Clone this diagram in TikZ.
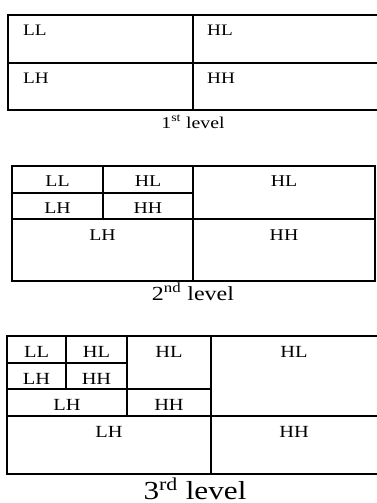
\documentclass[tikz,border=0pt]{standalone}
\usepackage{fontspec}
\setmainfont{Liberation Serif}
\usepackage{graphicx}
\newcommand\fsz[2]{\scalebox{1.2}[1]{\fontsize{#1}{#1}\selectfont #2}}
\tikzset{
  grid/.style={line width=1.6pt, line join=miter},
  lbl/.style={inner sep=0pt, anchor=base},
  lblw/.style={inner sep=0pt, anchor=base west},
}
\begin{document}
\begin{tikzpicture}[x=1pt,y=-1pt]
\useasboundingbox (0,0) rectangle (377,503);
\clip (0,0) rectangle (377,503);
% ---------- 1st level ----------
\draw[grid] (380,15) -- (8,15) -- (8,110) -- (380,110);
\draw[grid] (8,63) -- (380,63);
\draw[grid] (193,15) -- (193,110);
\node[lblw] (a1) at (23,35.7) {\fsz{16}{LL}};
\node[lblw] (a2) at (207,35.7) {\fsz{16}{HL}};
\node[lblw] (a3) at (23,83.3) {\fsz{16}{LH}};
\node[lblw] (a4) at (207,83.3) {\fsz{16}{HH}};
\node[lbl] (c1) at (193,128) {\fsz{16.5}{1\textsuperscript{st} level}};
% ---------- 2nd level ----------
\draw[grid] (12,166) rectangle (375,281);
\draw[grid] (12,193) -- (193,193);
\draw[grid] (12,219) -- (375,219);
\draw[grid] (103,166) -- (103,219);
\draw[grid] (193,166) -- (193,281);
\node[lbl] (b1) at (57.5,186.7) {\fsz{16.5}{LL}};
\node[lbl] (b2) at (148,186.7) {\fsz{16.5}{HL}};
\node[lbl] (b3) at (284,186.7) {\fsz{16.5}{HL}};
\node[lbl] (b4) at (57.5,213.3) {\fsz{16.5}{LH}};
\node[lbl] (b5) at (148,213.3) {\fsz{16.5}{HH}};
\node[lbl] (b6) at (102.5,240) {\fsz{16.5}{LH}};
\node[lbl] (b7) at (284,240) {\fsz{16.5}{HH}};
\node[lbl] (c2) at (193,300.5) {\fsz{20}{2\textsuperscript{nd} level}};
% ---------- 3rd level ----------
\draw[grid] (380,336) -- (7,336) -- (7,474) -- (380,474);
\draw[grid] (7,363) -- (127,363);
\draw[grid] (7,389) -- (211,389);
\draw[grid] (7,416) -- (380,416);
\draw[grid] (66,336) -- (66,389);
\draw[grid] (127,336) -- (127,416);
\draw[grid] (211,336) -- (211,474);
\node[lbl] (d1) at (36.5,357.3) {\fsz{17}{LL}};
\node[lbl] (d2) at (96.5,357.3) {\fsz{17}{HL}};
\node[lbl] (d3) at (169,357.3) {\fsz{17}{HL}};
\node[lbl] (d4) at (294,357.3) {\fsz{17}{HL}};
\node[lbl] (d5) at (36.5,384) {\fsz{17}{LH}};
\node[lbl] (d6) at (96.5,384) {\fsz{17}{HH}};
\node[lbl] (d7) at (67,410.7) {\fsz{17}{LH}};
\node[lbl] (d8) at (169,410.7) {\fsz{17}{HH}};
\node[lbl] (d9) at (109,437.3) {\fsz{17}{LH}};
\node[lbl] (d10) at (294,437.3) {\fsz{17}{HH}};
\node[lbl] (c3) at (195,499.5) {\fsz{26}{3\textsuperscript{rd} level}};
\end{tikzpicture}
\end{document}
